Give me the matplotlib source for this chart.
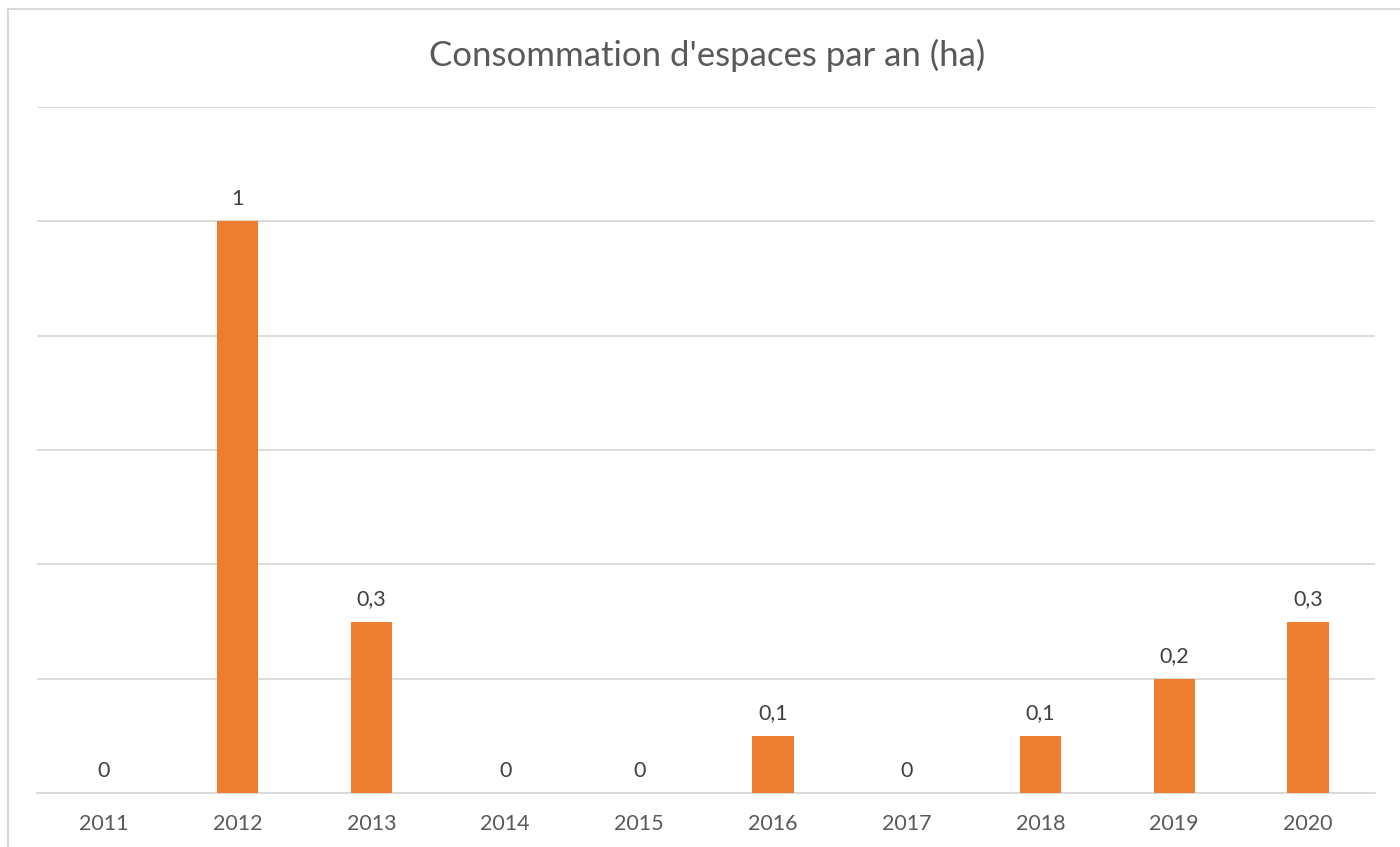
import matplotlib.pyplot as plt
from matplotlib.patches import Rectangle

years = ['2011', '2012', '2013', '2014', '2015', '2016', '2017', '2018', '2019', '2020']
values = [0, 1, 0.3, 0, 0, 0.1, 0, 0.1, 0.2, 0.3]
labels = ['0', '1', '0,3', '0', '0', '0,1', '0', '0,1', '0,2', '0,3']

plt.rcParams['font.family'] = ['Lato', 'DejaVu Sans']
txt = '#595959'

fig = plt.figure(figsize=(14, 8.47), dpi=100)
ax = fig.add_axes([37 / 1400, 1 - 793 / 847, (1375 - 37) / 1400, (793 - 107) / 847])

x = range(len(years))
bars = ax.bar(x, values, width=0.31, color='#ed7d31', zorder=3)

# labels above bars, like Excel
for xi, v, lab in zip(x, values, labels):
    ax.annotate(lab, (xi, v), xytext=(0, 9), textcoords='offset points',
                ha='center', va='bottom', fontsize=15.5, color='#404040')

ax.set_xlim(-0.5, len(years) - 0.5)
ax.set_ylim(0, 1.2)
ax.set_yticks([0, 0.2, 0.4, 0.6, 0.8, 1.0, 1.2])
ax.yaxis.grid(True, color='#d9d9d9', linewidth=1.3, zorder=0)
ax.set_yticklabels([])
ax.tick_params(axis='y', length=0)
ax.set_xticks(list(x))
ax.set_xticklabels(years, fontsize=15.5, color=txt)
ax.tick_params(axis='x', length=0, pad=15)
for s in ['top', 'right', 'left']:
    ax.spines[s].set_visible(False)
ax.spines['bottom'].set_color('#d9d9d9')
ax.spines['bottom'].set_linewidth(1.3)

fig.text(707 / 1400, 1 - 55 / 847, "Consommation d'espaces par an (ha)",
         ha='center', va='center', fontsize=25, color=txt)

# chart frame
fig.patches.append(Rectangle((7.5 / 1400, -0.1), 1.1, 1 - 9.5 / 847 + 0.1,
                             transform=fig.transFigure, fill=False,
                             edgecolor='#d9d9d9', linewidth=1.5))

fig.savefig('out.png', dpi=100)
